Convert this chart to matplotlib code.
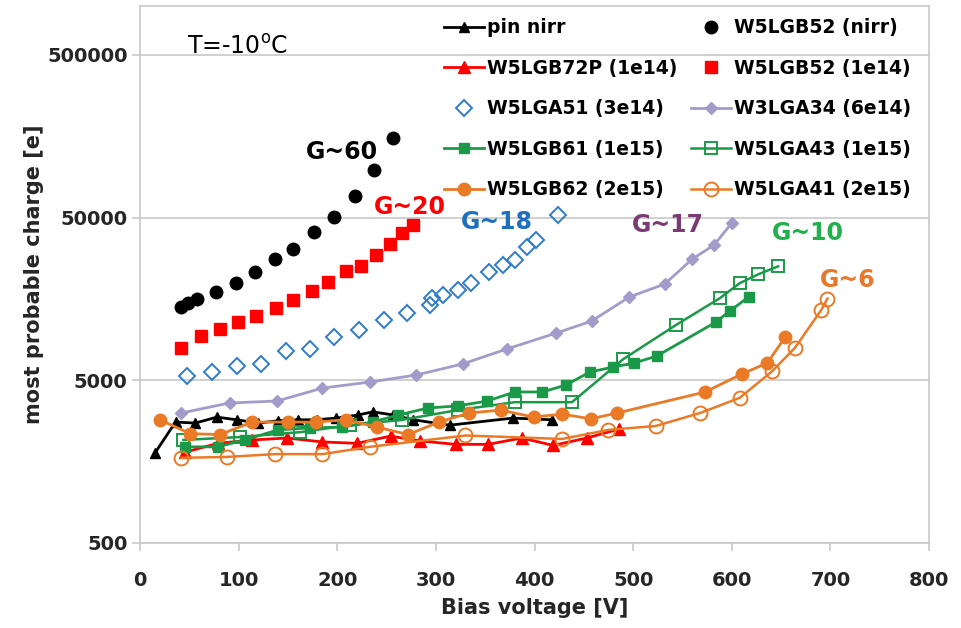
import matplotlib
matplotlib.use("Agg")
import matplotlib.pyplot as plt
from matplotlib.ticker import FixedLocator, FixedFormatter, NullLocator

# data (bias voltage [V], most probable charge [e])
pin_v = [15, 36, 56, 78, 98, 120, 140, 160, 179, 199, 221, 236, 257, 277, 314, 378, 418]
pin_q = [1780, 2770, 2730, 2970, 2860, 2730, 2820, 2860, 2860, 2930, 3060, 3200, 3060, 2860, 2650, 2930, 2860]

b52n_v = [42, 49, 58, 77, 97, 117, 137, 155, 176, 197, 218, 237, 257]
b52n_q = [14100, 14900, 15800, 17400, 19800, 23100, 27800, 32000, 40800, 50400, 67900, 98000, 154000]

b72p_v = [46, 79, 114, 149, 185, 220, 254, 284, 320, 353, 387, 419, 453, 486]
b72p_q = [1810, 2050, 2150, 2210, 2090, 2050, 2270, 2120, 2020, 2020, 2210, 1990, 2210, 2510]

b52_v = [42, 62, 81, 99, 118, 138, 155, 174, 191, 209, 224, 239, 253, 266, 277]
b52_q = [7900, 9360, 10330, 11410, 12420, 13910, 15580, 17700, 20100, 23490, 25210, 29450, 34410, 40200, 45000]

a51_v = [48, 73, 98, 123, 148, 172, 197, 222, 247, 271, 294, 296, 307, 322, 336, 354, 368, 380, 392, 402, 424]
a51_q = [5300, 5600, 6100, 6300, 7570, 7790, 9230, 10190, 11740, 12960, 14500, 16000, 16700, 17950, 19800,
         23150, 25570, 27440, 33000, 36400, 51900]

a34_v = [42, 91, 139, 185, 233, 280, 327, 372, 422, 458, 496, 532, 560, 582, 600]
a34_q = [3150, 3630, 3730, 4480, 4880, 5390, 6300, 7790, 9760, 11570, 16250, 19540, 27830, 33930, 46300]

b61_v = [46, 79, 106, 140, 172, 205, 236, 262, 292, 322, 352, 380, 408, 432, 456, 480, 501, 524, 584, 598, 617]
b61_q = [1950, 1950, 2150, 2480, 2550, 2580, 2770, 3060, 3380, 3480, 3730, 4240, 4240, 4680, 5620, 6040, 6390,
         7050, 11410, 13330, 16250]

a43_v = [44, 101, 162, 213, 266, 322, 380, 438, 490, 543, 588, 608, 627, 647]
a43_q = [2150, 2240, 2400, 2650, 2860, 3280, 3670, 3670, 6750, 10900, 16000, 19770, 22440, 25100]

b62_v = [20, 51, 81, 114, 150, 178, 209, 240, 272, 303, 334, 366, 399, 428, 457, 484, 573, 610, 636, 654]
b62_q = [2860, 2350, 2320, 2770, 2770, 2770, 2860, 2580, 2320, 2770, 3150, 3280, 2970, 3100, 2900, 3150, 4240,
         5460, 6390, 9180]

a41_v = [42, 88, 137, 185, 233, 330, 428, 475, 523, 568, 608, 641, 664, 691, 697]
a41_q = [1670, 1690, 1760, 1760, 1950, 2290, 2180, 2480, 2620, 3150, 3900, 5690, 7910, 13600, 15900]

y_ticks = [500, 5000, 50000, 500000]
x_ticks = [0, 100, 200, 300, 400, 500, 600, 700, 800]

black = "#000000"
red = "#FF0000"
blue = "#2E7BCF"
lav = "#A39CCB"
green = "#1A9A48"
orange = "#EA7A26"
grid = "#C8C8C8"

plt.rcParams["font.family"] = ["DejaVu Sans"]

fig = plt.figure(figsize=(9.61, 6.28), dpi=100)
ax = fig.add_axes([140 / 961, 85 / 628, 789 / 961, 537 / 628])

series = [
    (pin_v, pin_q, dict(color=black, marker="^", ms=7, lw=2, label="pin nirr")),
    (b52n_v, b52n_q, dict(color=black, marker="o", ms=9, ls="none", label="W5LGB52 (nirr)")),
    (b72p_v, b72p_q, dict(color=red, marker="^", ms=9, lw=2, label="W5LGB72P (1e14)")),
    (b52_v, b52_q, dict(color=red, marker="s", ms=8, ls="none", label="W5LGB52 (1e14)")),
    (a51_v, a51_q, dict(color=blue, marker="D", ms=8, ls="none", mfc="none", mew=1.4, label="W5LGA51 (3e14)")),
    (a34_v, a34_q, dict(color=lav, marker="D", ms=6, lw=2, label="W3LGA34 (6e14)")),
    (b61_v, b61_q, dict(color=green, marker="s", ms=7.5, lw=2, label="W5LGB61 (1e15)")),
    (a43_v, a43_q, dict(color=green, marker="s", ms=9, lw=1.8, mfc="none", mew=1.4, label="W5LGA43 (1e15)")),
    (b62_v, b62_q, dict(color=orange, marker="o", ms=9, lw=2, label="W5LGB62 (2e15)")),
    (a41_v, a41_q, dict(color=orange, marker="o", ms=10, lw=1.8, mfc="none", mew=1.4, label="W5LGA41 (2e15)")),
]
handles = []
for v, q, kw in series:
    h, = ax.plot(v, q, **kw)
    handles.append(h)

ax.set_yscale("log")
ax.set_xlim(0, 800)
ax.set_ylim(500, 1000000)
ax.yaxis.set_major_locator(FixedLocator(y_ticks))
ax.yaxis.set_major_formatter(FixedFormatter([str(t) for t in y_ticks]))
ax.yaxis.set_minor_locator(NullLocator())
ax.set_xticks(x_ticks)
ax.grid(axis="y", color=grid, lw=1.2)
ax.set_axisbelow(True)
for s in ax.spines.values():
    s.set_color(grid)
    s.set_linewidth(1.2)
ax.tick_params(axis="both", color=grid, length=6, width=1.2, labelsize=14, labelcolor="#262626")
ax.tick_params(axis="x", pad=14)
ax.tick_params(axis="y", pad=3)
for lab in ax.get_xticklabels() + ax.get_yticklabels():
    lab.set_fontweight("bold")

ax.set_xlabel("Bias voltage [V]", fontsize=15, fontweight="bold", color="#262626", labelpad=6)
ax.set_ylabel("most probable charge [e]", fontsize=15, fontweight="bold", color="#262626", labelpad=2)

# legend in row order of the reference (two columns)
order = [0, 2, 4, 6, 8, 1, 3, 5, 7, 9]
leg = ax.legend([handles[i] for i in order], [handles[i].get_label() for i in order],
                ncol=2, loc="upper left", bbox_to_anchor=(0.37, 1.0), frameon=False,
                prop=dict(size=13.5, weight="bold"), handlelength=2.15, handletextpad=0.15,
                columnspacing=0.7, labelspacing=1.15, borderaxespad=0.25)

ax.text(99, 560000, "T=-10$^{\\mathrm{o}}$C", fontsize=17, ha="center", va="center")
labels = [
    (205, 126500, "G~60", black),
    (274, 58100, "G~20", red),
    (362, 47000, "G~18", "#1F6FBF"),
    (535, 45000, "G~17", "#7A3A73"),
    (677, 40200, "G~10", "#22B04B"),
    (718, 20700, "G~6", "#E8792B"),
]
for x, y, t, c in labels:
    ax.text(x, y, t, fontsize=17, fontweight="bold", color=c, ha="center", va="center")

fig.savefig("out.png", dpi=100)
